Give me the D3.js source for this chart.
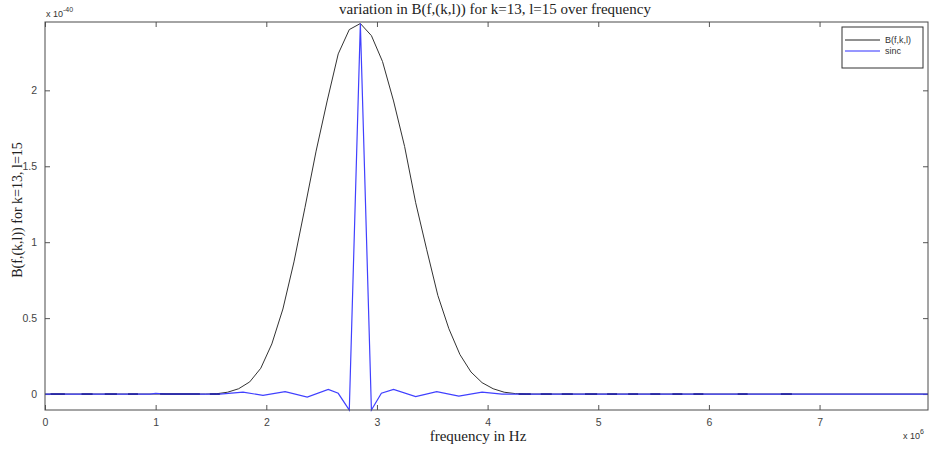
<!DOCTYPE html>
<html>
<head>
<meta charset="utf-8">
<script src="https://cdn.jsdelivr.net/npm/d3@7"></script>
<style>
  body { margin: 0; background: #fff; }
  svg { display: block; }
  .tick text { font-family: Arial, "Liberation Sans", sans-serif; font-size: 10.5px; fill: #444; }
  .tick line { stroke: #555; }
  .domain { display: none; }
  .serif { font-family: "Liberation Serif", "Times New Roman", serif; font-size: 15px; fill: #222; }
  .small { font-family: Arial, "Liberation Sans", sans-serif; font-size: 9px; fill: #333; }
</style>
</head>
<body>
<svg id="chart" width="934" height="449"></svg>
<script>
// frequency in units of 1e6 Hz, values in units of 1e-40
const bCurve = [
  [0, 0], [1.45, 0], [1.55, 0.002], [1.65, 0.012], [1.75, 0.035], [1.85, 0.08], [1.95, 0.17],
  [2.05, 0.33], [2.15, 0.56], [2.25, 0.87], [2.35, 1.23], [2.45, 1.6], [2.55, 1.93],
  [2.65, 2.24], [2.75, 2.4], [2.85, 2.44], [2.95, 2.36], [3.05, 2.19], [3.15, 1.93],
  [3.25, 1.63], [3.35, 1.26], [3.45, 0.95], [3.55, 0.65], [3.65, 0.43], [3.75, 0.26],
  [3.85, 0.145], [3.95, 0.075], [4.05, 0.035], [4.15, 0.012], [4.25, 0.003], [4.35, 0], [7.98, 0]
]
const sincCurve = [
  [0, 0], [0.95, 0], [1.0, 0.004], [1.1, 0], [1.58, 0], [1.79, 0.013], [1.97, -0.009],
  [2.17, 0.016], [2.37, -0.02], [2.56, 0.031], [2.65, 0.005], [2.75, -0.105], [2.85, 2.44],
  [2.95, -0.105], [3.04, 0.005], [3.15, 0.031], [3.35, -0.017], [3.54, 0.016], [3.74, -0.013],
  [3.95, 0.013], [4.13, 0], [7.98, 0]
]
// dark segments where both traces overlap on the zero line
const tailDashes = [
  [0.05, 0.18], [0.33, 0.43], [0.54, 0.65], [0.75, 0.84], [1.04, 1.4], [1.49, 1.58],
  [4.28, 4.39], [4.48, 4.58], [4.67, 4.77], [4.88, 4.99], [5.08, 5.17], [5.27, 5.36],
  [5.47, 5.56], [5.67, 5.76], [5.86, 5.95], [6.26, 6.35], [6.65, 6.75]
]
const xTicks = [0, 1, 2, 3, 4, 5, 6, 7]
const yTicks = [0, 0.5, 1, 1.5, 2]
const legendItems = [['B(f,k,l)', '#222'], ['sinc', '#2f2fff']]

const W = 934, H = 449
const m = {left: 45, right: 6, top: 22, bottom: 39}
const svg = d3.select('#chart')
const x = d3.scaleLinear().domain([0, 7.98]).range([m.left, W - m.right])
const y = d3.scaleLinear().domain([-0.105, 2.45]).range([H - m.bottom, m.top])
const fmt = d => d3.format('~g')(d)

/* Axes (ticks inside, mirrored) */
svg.append('g').attr('transform', `translate(0,${y.range()[0]})`)
  .call(d3.axisBottom(x).tickValues(xTicks).tickSize(-5).tickPadding(9).tickFormat(fmt))
svg.append('g').attr('transform', `translate(0,${y.range()[1]})`)
  .call(d3.axisTop(x).tickValues(xTicks).tickSize(-5).tickFormat(''))
svg.append('g').attr('transform', `translate(${x.range()[0]},0)`)
  .call(d3.axisLeft(y).tickValues(yTicks).tickSize(-5).tickPadding(8).tickFormat(fmt))
svg.append('g').attr('transform', `translate(${x.range()[1]},0)`)
  .call(d3.axisRight(y).tickValues(yTicks).tickSize(-5).tickFormat(''))

const line = d3.line().x(d => x(d[0])).y(d => y(d[1]))

svg.append('path').datum(bCurve).attr('d', line)
  .attr('fill', 'none').attr('stroke', '#333').attr('stroke-width', 1)
svg.append('path').datum(sincCurve).attr('d', line)
  .attr('fill', 'none').attr('stroke', '#4040ff').attr('stroke-width', 1.2)
svg.selectAll('.dash').data(tailDashes).enter()
  .append('line')
  .attr('x1', d => x(d[0])).attr('x2', d => x(d[1]))
  .attr('y1', y(0)).attr('y2', y(0))
  .attr('stroke', '#22229a').attr('stroke-width', 1.6)

/* Box */
svg.append('rect')
  .attr('x', x.range()[0]).attr('y', y.range()[1])
  .attr('width', x.range()[1] - x.range()[0]).attr('height', y.range()[0] - y.range()[1])
  .attr('fill', 'none').attr('stroke', '#4a4a4a').attr('stroke-width', 1)

/* Labels */
svg.append('text').attr('class', 'serif').attr('x', 495).attr('y', 14)
  .attr('text-anchor', 'middle').text('variation in B(f,(k,l)) for k=13, l=15 over frequency')
svg.append('text').attr('class', 'serif').attr('x', 478).attr('y', 441)
  .attr('text-anchor', 'middle').text('frequency in Hz')
svg.append('text').attr('class', 'serif').style('font-size', '14px')
  .attr('transform', 'translate(22,210) rotate(-90)')
  .attr('text-anchor', 'middle').text('B(f,(k,l)) for k=13, l=15')

const mult = (px, py, exp) => {
  const t = svg.append('text').attr('class', 'small').attr('x', px).attr('y', py)
  t.append('tspan').text('x 10')
  t.append('tspan').attr('dy', -5).attr('font-size', 7).text(exp)
}
mult(46, 17, '-40')
mult(903, 439, '6')

/* Legend */
const lg = svg.append('g').attr('transform', 'translate(842,27)')
lg.append('rect').attr('width', 81).attr('height', 41)
  .attr('fill', '#fff').attr('stroke', '#333').attr('stroke-width', 1)
legendItems.forEach(([name, col], i) => {
  lg.append('line').attr('x1', 3).attr('x2', 38).attr('y1', 13 + i * 11).attr('y2', 13 + i * 11)
    .attr('stroke', col).attr('stroke-width', 1)
  lg.append('text').attr('class', 'small').attr('x', 43).attr('y', 16 + i * 11).text(name)
})
</script>
</body>
</html>
